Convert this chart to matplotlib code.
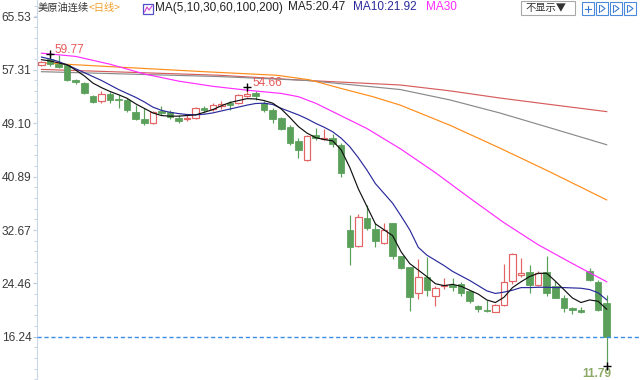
import matplotlib
matplotlib.use('Agg')
import matplotlib.pyplot as plt
from matplotlib.patches import Rectangle
from matplotlib.lines import Line2D

# ---------------- data ----------------
opens = [58.1, 59.0, 58.2, 58.1, 55.8, 55.35, 53.3, 52.55, 53.6, 52.9,
         52.7, 50.8, 49.7, 49.2, 51.0, 50.9, 49.9, 49.7, 49.9, 51.4,
         51.3, 51.7, 52.2, 52.3, 53.3, 53.7, 52.3, 51.1, 49.9, 48.6,
         46.3, 43.5, 47.3, 46.7, 46.9, 45.8, 32.7, 30.25, 34.5, 32.8,
         30.7, 33.7, 28.6, 26.9, 22.9, 25.5, 22.5, 24.0, 24.2, 24.3,
         23.2, 20.9, 20.35, 20.1, 21.1, 24.8, 25.8, 26.25, 24.2, 26.25,
         24.0, 22.15, 20.6, 20.35, 26.4, 24.7, 21.4]
highs = [58.7, 59.77, 59.6, 58.3, 55.9, 55.5, 53.5, 54.0, 53.9, 53.5,
         53.0, 51.9, 51.4, 51.0, 51.8, 51.2, 50.4, 50.4, 51.6, 51.8,
         52.3, 52.5, 52.5, 53.6, 54.66, 54.0, 52.5, 51.4, 50.1, 48.8,
         46.8, 47.3, 48.4, 48.3, 47.5, 46.0, 35.0, 35.1, 36.5, 33.7,
         33.8, 33.8, 28.7, 27.0, 28.2, 28.45, 24.05, 25.3, 25.3, 24.6,
         23.4, 21.1, 21.9, 21.3, 27.5, 29.2, 28.3, 27.3, 26.4, 28.6,
         24.8, 22.65, 20.85, 20.8, 26.8, 24.9, 22.65]
lows = [57.9, 57.9, 57.6, 55.6, 55.1, 53.6, 52.2, 52.3, 52.2, 51.5,
        50.9, 49.6, 48.9, 49.0, 50.4, 49.8, 49.2, 49.5, 49.7, 50.7,
        51.0, 51.3, 51.2, 52.1, 53.2, 52.7, 50.9, 49.2, 48.0, 45.8,
        43.8, 43.3, 46.5, 46.5, 45.5, 40.9, 27.3, 30.1, 32.7, 30.1,
        30.5, 28.15, 26.6, 20.25, 22.0, 22.5, 21.0, 23.6, 23.2, 22.5,
        21.5, 20.1, 20.1, 20.0, 20.9, 24.3, 25.4, 22.9, 24.0, 22.5,
        22.2, 20.1, 19.8, 19.9, 24.8, 20.2, 11.79]
closes = [58.5, 58.2, 57.8, 55.8, 55.45, 53.8, 52.45, 53.6, 52.7, 52.7,
          51.2, 49.7, 49.1, 50.9, 50.7, 50.0, 49.5, 49.95, 51.4, 51.2,
          51.9, 52.0, 51.9, 53.5, 53.6, 53.3, 51.2, 49.7, 48.3, 46.0,
          45.0, 47.15, 46.8, 46.9, 45.9, 41.4, 30.1, 34.6, 33.0, 30.9,
          32.7, 28.7, 26.8, 22.4, 25.5, 23.5, 23.7, 24.2, 23.9, 23.0,
          21.8, 20.5, 20.2, 21.1, 24.7, 29.0, 26.0, 24.2, 26.0, 22.9,
          22.2, 20.6, 20.35, 20.05, 25.0, 20.35, 16.24]

ma5 = [58.9, 58.7, 58.4, 58.1, 57.3, 56.4, 55.3, 54.6, 54.0, 53.5,
       52.95, 52.1, 51.4, 50.7, 50.3, 50.2, 50.2, 50.3, 50.4, 50.8,
       51.2, 51.8, 52.3, 52.6, 52.9, 52.85, 52.6, 52.2, 51.3, 50.0,
       48.6, 47.6, 46.9, 46.6, 46.4, 45.0, 42.3, 39.0, 36.3, 33.6,
       32.7, 31.8, 29.3, 27.5, 26.5, 25.5, 24.4, 24.1, 24.3, 24.0,
       23.4, 22.8, 21.9, 21.5, 22.3, 23.8, 24.7, 25.5, 26.0, 26.0,
       24.8, 23.5, 22.2, 21.5, 21.9, 21.7, 20.47]
ma10 = [59.3, 59.0, 58.6, 58.1, 57.5, 56.9, 56.3, 55.7, 55.0, 54.3,
        53.7, 53.1, 52.4, 51.6, 51.1, 50.8, 50.6, 50.45, 50.4, 50.5,
        50.7, 51.0, 51.3, 51.6, 51.9, 52.15, 52.2, 52.0, 51.4, 50.9,
        50.4, 49.8, 49.1, 48.5, 47.8, 46.8, 45.5, 43.8, 41.9, 39.8,
        38.3, 36.8, 34.8, 32.7, 30.0, 28.8, 28.0, 27.2, 26.3, 25.6,
        24.9, 24.1, 23.3, 22.9, 23.1, 23.4, 23.8, 23.8, 23.85, 23.85,
        23.8, 23.8, 23.75, 23.7, 23.5, 23.0, 21.92]
ma30_idx = [0, 4, 8, 12, 16, 20, 24, 28, 30, 32, 34, 36, 38, 42, 46, 50, 54, 58, 62, 66]
ma30 = [59.9, 59.4, 58.2, 56.7, 55.6, 54.8, 54.2, 53.7, 53.2, 52.2, 50.9, 49.6,
        48.3, 45.1, 41.5, 37.6, 33.8, 30.4, 27.5, 24.7]
ma60_idx = [0, 19, 27.5, 31.3, 34.9, 38.7, 41.9, 47.7, 53.5, 59.4, 66]
ma60 = [58.4, 57.05, 56.5, 55.8, 54.5, 53.2, 51.9, 48.8, 45.3, 41.6, 37.3]
ma100_idx = [0, 20.8, 31, 41.9, 47.7, 53.5, 59.4, 66]
ma100 = [57.05, 56.3, 55.7, 54.3, 52.7, 50.7, 48.4, 45.8]
ma200_idx = [0, 20.8, 31, 41.9, 47.7, 53.5, 59.4, 66]
ma200 = [57.4, 56.5, 55.7, 55.0, 54.1, 53.0, 52.0, 50.9]

yticks = [16.24, 24.46, 32.67, 40.89, 49.10, 57.31, 65.53]
ytick_labels = ['16.24', '24.46', '32.67', '40.89', '49.10', '57.31', '65.53']
last_close = 16.24
mark_high1 = (1, 59.77)
mark_high2 = (24, 54.66)
mark_low = (66, 11.79)

# ---------------- figure ----------------
W, H = 640, 380
fig = plt.figure(figsize=(W / 100, H / 100), dpi=100)
ax = fig.add_axes([37 / W, 0, 1 - 37 / W, 1])
ax.set_xlim(-0.525, 69.89)
ax.set_ylim(9.57, 68.09)

RED = '#e36464'
GREEN = '#5aa05a'
px = 0.72  # one pixel in points
bw = 0.76

n = len(closes)
for i in range(n):
    o, h, l, c = opens[i], highs[i], lows[i], closes[i]
    top, bot = max(o, c), min(o, c)
    hgt = max(top - bot, 0.15)
    if c > o:
        ax.vlines(i, top, h, color=RED, lw=px * 1.2, zorder=3)
        ax.vlines(i, l, bot, color=RED, lw=px * 1.2, zorder=3)
        ax.add_patch(Rectangle((i - bw / 2, bot), bw, hgt, facecolor='white',
                               edgecolor=RED, lw=px * 1.2, zorder=4))
    else:
        ax.vlines(i, l, h, color=GREEN, lw=px * 1.2, zorder=3)
        ax.add_patch(Rectangle((i - bw / 2, bot), bw, hgt, facecolor=GREEN,
                               edgecolor=GREEN, lw=px * 0.8, zorder=4))

idx = list(range(n))
LW = 0.85
ax.plot(ma200_idx, ma200, color='#d24b4b', lw=LW, zorder=2, alpha=0.9)
ax.plot(ma100_idx, ma100, color='#8a8a8a', lw=LW, zorder=2)
ax.plot(ma60_idx, ma60, color='#ff8c1a', lw=LW, zorder=2)
ax.plot(ma30_idx, ma30, color='#ff2cff', lw=LW, zorder=5)
ax.plot(idx, ma10, color='#2a2a9c', lw=LW, zorder=5)
ax.plot(idx, ma5, color='#111111', lw=LW, zorder=6)

ax.axhline(last_close, color='#3a8ee8', lw=1.0, ls=(0, (3, 2)), zorder=7)

for (mi, mv) in (mark_high1, mark_high2, mark_low):
    ax.plot([mi], [mv], marker='+', ms=6, mew=1.0, color='black', zorder=8)
lab_font = dict(family=['Liberation Sans', 'DejaVu Sans'], fontsize=8.6)
ax.annotate('59.77', mark_high1, xytext=(4, 1), textcoords='offset pixels',
            ha='left', va='baseline', color='#e55a5a', **lab_font)
ax.annotate('54.66', mark_high2, xytext=(5, 1), textcoords='offset pixels',
            ha='left', va='baseline', color='#e55a5a', **lab_font)
ax.annotate('11.79', mark_low, xytext=(5, -2), textcoords='offset pixels',
            ha='right', va='top', color='#8caa66', fontweight='bold', **lab_font)

# axes styling
for s in ('top', 'right', 'bottom'):
    ax.spines[s].set_visible(False)
ax.spines['left'].set_color('#c9d7e6')
ax.set_xticks([])
ax.set_yticks(yticks)
ax.set_yticklabels(ytick_labels)
minor = [yticks[0] + k * (yticks[1] - yticks[0]) / 5 for k in range(-4, 32)]
ax.set_yticks([m for m in minor if 9.6 < m < 68], minor=True)
ax.tick_params(axis='y', which='major', length=3, width=0.8, color='#b7c7d9',
               labelsize=8.6, labelcolor='#3a3a3a', pad=1)
ax.tick_params(axis='y', which='minor', length=2.5, width=0.8, color='#c9d7e6')
for t in ax.get_yticklabels():
    t.set_fontfamily(['Liberation Sans', 'DejaVu Sans'])

# ---------------- header ----------------
def ftxt(x, y, s, color, size=8.5, fam=None, **kw):
    fam = fam or ['Liberation Sans', 'Noto Sans CJK SC', 'DejaVu Sans']
    fig.text(x / W, 1 - y / H, s, color=color, fontsize=size, family=fam,
             va='center', ha='left', **kw)

cjk = ['Noto Sans CJK SC', 'DejaVu Sans']
ftxt(38, 7.5, '美原油连续', '#333333', size=7.4, fam=cjk)
ftxt(89, 7.5, '<日线>', '#f0a030', size=7.4, fam=cjk)
# small MA icon
fig.add_artist(Rectangle((143 / W, 1 - 14 / H), 10 / W, 10 / H, transform=fig.transFigure,
                         facecolor='white', edgecolor='#5050c8', lw=0.9))
fig.add_artist(Line2D([144.5 / W, 147 / W, 149 / W, 152 / W],
                      [1 - 12 / H, 1 - 7 / H, 1 - 10 / H, 1 - 6 / H],
                      transform=fig.transFigure, color='#d040d0', lw=0.8))
ftxt(155, 7.5, 'MA(5,10,30,60,100,200)', '#222222')
ftxt(288, 7.5, 'MA5:20.47', '#222222')
ftxt(353, 7.5, 'MA10:21.92', '#2a2a9c')
ftxt(426, 7.5, 'MA30', '#ff2cff')

# right-side controls
fig.add_artist(Rectangle((521 / W, 1 - 15 / H), 54 / W, 14 / H, transform=fig.transFigure,
                         facecolor='white', edgecolor='#a8a8a8', lw=0.8))
ftxt(525, 8, '不显示▼', '#333333', size=7.4, fam=cjk)
for bx in (582, 596, 610, 624):
    fig.add_artist(Rectangle((bx / W, 1 - 15 / H), 12 / W, 13 / H, transform=fig.transFigure,
                             facecolor='white', edgecolor='#4a8ad8', lw=0.8))
fig.add_artist(Line2D([585 / W, 591 / W], [1 - 8.5 / H, 1 - 8.5 / H], transform=fig.transFigure, color='#3a7ad0', lw=0.8))
fig.add_artist(Line2D([588 / W, 588 / W], [1 - 5.5 / H, 1 - 11.5 / H], transform=fig.transFigure, color='#3a7ad0', lw=0.8))
for bx in (596, 610, 624):
    fig.add_artist(Line2D([(bx + 3) / W, (bx + 3) / W], [1 - 5 / H, 1 - 12 / H], transform=fig.transFigure, color='#3a7ad0', lw=0.8))
    fig.add_artist(Line2D([(bx + 5) / W, (bx + 9) / W, (bx + 5) / W],
                          [1 - 5.5 / H, 1 - 8.5 / H, 1 - 11.5 / H], transform=fig.transFigure, color='#3a7ad0', lw=0.8))

fig.savefig('out.png', dpi=100)
